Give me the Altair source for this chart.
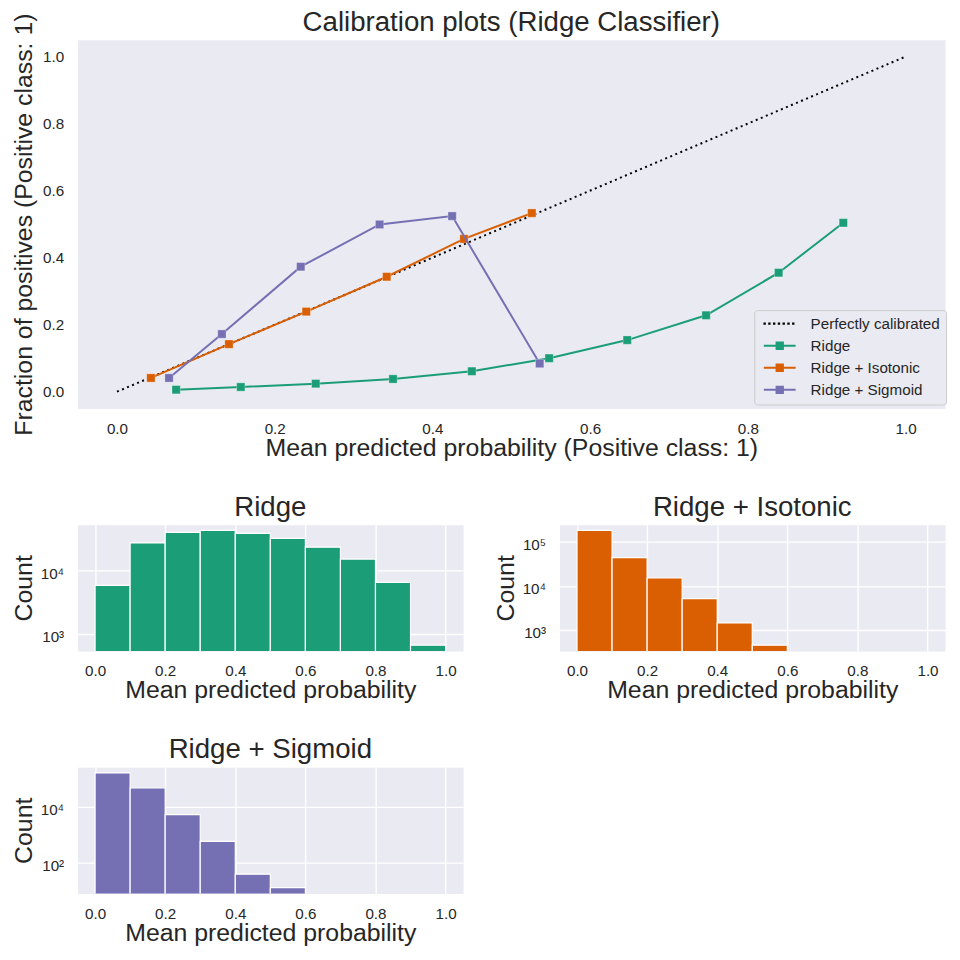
import math
import altair as alt
import pandas as pd

FONT = "Liberation Sans"
TEXT = "#262626"
BG = "#EAEAF2"

# ---------------- data ----------------
series_names = ["Ridge", "Ridge + Isotonic", "Ridge + Sigmoid"]
series_colors = ["#1b9e77", "#d95f02", "#7570b3"]
diag_name = "Perfectly calibrated"

ridge_x = [0.075, 0.157, 0.252, 0.350, 0.450, 0.548, 0.647, 0.747, 0.839, 0.921]
ridge_y = [0.006, 0.014, 0.024, 0.038, 0.061, 0.100, 0.154, 0.228, 0.355, 0.504]
iso_x = [0.043, 0.142, 0.240, 0.342, 0.440, 0.526]
iso_y = [0.041, 0.142, 0.239, 0.343, 0.456, 0.533]
sig_x = [0.066, 0.133, 0.233, 0.333, 0.425, 0.536]
sig_y = [0.041, 0.172, 0.373, 0.499, 0.524, 0.084]
diag_x = [0.0, 1.0]
diag_y = [0.0, 1.0]

prob_ticks = [0.0, 0.2, 0.4, 0.6, 0.8, 1.0]
bin_starts = [0.0, 0.1, 0.2, 0.3, 0.4, 0.5, 0.6, 0.7, 0.8, 0.9]
bin_ends = [0.1, 0.2, 0.3, 0.4, 0.5, 0.6, 0.7, 0.8, 0.9, 1.0]
ridge_counts = [5850, 27500, 40400, 43400, 38900, 32500, 23600, 15300, 6520, 660]
iso_counts = [183000, 43900, 15100, 5120, 1430, 446, 0, 0, 0, 0]
sig_counts = [171000, 49300, 5300, 568, 37, 12, 0, 0, 0, 0]
ridge_count_ticks = [1e3, 1e4]
iso_count_ticks = [1e3, 1e4, 1e5]
sig_count_ticks = [1e2, 1e4]

# ---------------- layout constants ----------------
TOP_W, TOP_H = 873, 371
HIST_W, HIST_H = 388, 127
Y_TITLE_X = -46

SUP_EXPR = "'10' + ['\u2070','\u00b9','\u00b2','\u00b3','\u2074','\u2075','\u2076'][round(log(datum.value) / LN10)]"

prob_scale = alt.Scale(domain=[-0.05, 1.05], nice=False, zero=False)


def make_title(text, offset, dy):
    return alt.Title(text, font=FONT, fontSize=27.8, fontWeight="normal", color=TEXT,
                     offset=offset, dy=dy, baseline="alphabetic", frame="group",
                     anchor="middle")


# ---------------- top calibration chart ----------------
X_TOP = alt.X("x:Q", scale=prob_scale,
              axis=alt.Axis(values=prob_ticks, format=".1f", grid=False, labelPadding=13,
                            title="Mean predicted probability (Positive class: 1)",
                            titleY=47, titleBaseline="alphabetic"))
Y_TOP = alt.Y("y:Q", scale=prob_scale,
              axis=alt.Axis(values=prob_ticks, format=".1f", grid=False, labelPadding=14,
                            title="Fraction of positives (Positive class: 1)",
                            titleX=Y_TITLE_X, titleY=TOP_H / 2, titleAngle=270,
                            titleBaseline="alphabetic", titleAlign="center"))

color_scale = alt.Scale(domain=series_names, range=series_colors)

diag_df = pd.DataFrame({"x": diag_x, "y": diag_y})
diag_layer = alt.Chart(diag_df).mark_line(
    color="black", strokeWidth=2, strokeDash=[2, 3.5]
).encode(x=X_TOP, y=Y_TOP)

layers = [diag_layer]
for name, xs, ys in zip(series_names, [ridge_x, iso_x, sig_x], [ridge_y, iso_y, sig_y]):
    df = pd.DataFrame({"x": xs, "y": ys, "series": name})
    col = alt.Color("series:N", scale=color_scale, legend=None)
    layers.append(alt.Chart(df).mark_line(strokeWidth=2).encode(x=X_TOP, y=Y_TOP, color=col))
    layers.append(alt.Chart(df).mark_square(size=70, opacity=1, stroke="white",
                                            strokeWidth=0.5, strokeOpacity=0.6)
                  .encode(x=X_TOP, y=Y_TOP, color=col))

legend_names = [diag_name] + series_names
legend_colors = ["black"] + series_colors
LINE_MARK = "M-1,0H7M2.2,-0.8H3.8V0.8H2.2Z"
DOTS = ("M-0.85,-0.05h0.1v0.1h-0.1Z M0.35,-0.05h0.1v0.1h-0.1Z M1.55,-0.05h0.1v0.1h-0.1Z "
        "M2.75,-0.05h0.1v0.1h-0.1Z M3.95,-0.05h0.1v0.1h-0.1Z M5.15,-0.05h0.1v0.1h-0.1Z "
        "M6.35,-0.05h0.1v0.1h-0.1Z")
legend_shapes = [DOTS, LINE_MARK, LINE_MARK, LINE_MARK]

leg = alt.Legend(title=None, orient="none", legendX=681, legendY=272,
                 symbolSize=64, symbolStrokeWidth=2, symbolOpacity=1,
                 labelOffset=35.4, padding=6, rowPadding=6.2,
                 fillColor=BG, strokeColor="#CCCCCC", cornerRadius=3,
                 labelFont=FONT, labelFontSize=15.3, labelColor=TEXT)

legend_df = pd.DataFrame({"series": legend_names, "x": [0.0] * 4, "y": [0.0] * 4})
legend_layer = alt.Chart(legend_df).transform_filter("false").mark_point(
    filled=True, opacity=1
).encode(
    x=X_TOP, y=Y_TOP,
    fill=alt.Fill("series:N", scale=alt.Scale(domain=legend_names, range=legend_colors), legend=leg),
    stroke=alt.Stroke("series:N", scale=alt.Scale(domain=legend_names, range=legend_colors), legend=leg),
    shape=alt.Shape("series:N", scale=alt.Scale(domain=legend_names, range=legend_shapes), legend=leg),
)
layers.append(legend_layer)

top = alt.layer(*layers).properties(
    width=TOP_W, height=TOP_H,
    title=make_title("Calibration plots (Ridge Classifier)", 8, 54),
)


# ---------------- histograms ----------------
def hist_chart(title, counts, color, ticks):
    df = pd.DataFrame({"start": bin_starts, "end": bin_ends, "count": counts})
    pos = [c for c in counts if c > 0]
    lo, hi = math.log10(min(pos)), math.log10(max(pos))
    m = 0.05 * (hi - lo)
    dom = [10 ** (lo - m), 10 ** (hi + m)]
    return alt.Chart(df).transform_filter("datum.count > 0").mark_bar(
        color=color, stroke="white", strokeWidth=1.2, clip=True
    ).encode(
        x=alt.X("start:Q", scale=prob_scale,
                axis=alt.Axis(values=prob_ticks, format=".1f", grid=True, labelPadding=13,
                              title="Mean predicted probability", titleY=47,
                              titleBaseline="alphabetic")),
        x2="end:Q",
        y=alt.Y("count:Q", scale=alt.Scale(type="log", domain=dom, nice=False),
                axis=alt.Axis(values=ticks, labelExpr=SUP_EXPR, grid=True, labelPadding=14,
                              labelOffset=3, title="Count", titleX=Y_TITLE_X,
                              titleY=HIST_H / 2, titleAngle=270,
                              titleBaseline="alphabetic", titleAlign="center")),
        y2=alt.value(HIST_H + 10),
    ).properties(width=HIST_W, height=HIST_H, title=make_title(title, 9, 28))


ridge_h = hist_chart("Ridge", ridge_counts, series_colors[0], ridge_count_ticks)
iso_h = hist_chart("Ridge + Isotonic", iso_counts, series_colors[1], iso_count_ticks)
sig_h = hist_chart("Ridge + Sigmoid", sig_counts, series_colors[2], sig_count_ticks)

row = alt.hconcat(ridge_h, iso_h, spacing=97, bounds="flush")

chart = alt.vconcat(top, row, sig_h, spacing=32).properties(
    padding={"left": 3, "top": -3, "right": 5, "bottom": 5},
    background="white",
).configure_view(
    fill=BG, stroke="transparent"
).configure_axis(
    domain=False, ticks=False, tickSize=0,
    gridColor="white", gridWidth=1.4, gridOpacity=1,
    labelFont=FONT, labelFontSize=15.3, labelColor=TEXT,
    titleFont=FONT, titleFontSize=25, titleFontWeight="normal", titleColor=TEXT,
)

chart.save("out.html", embed_options={"renderer": "svg", "actions": False})
